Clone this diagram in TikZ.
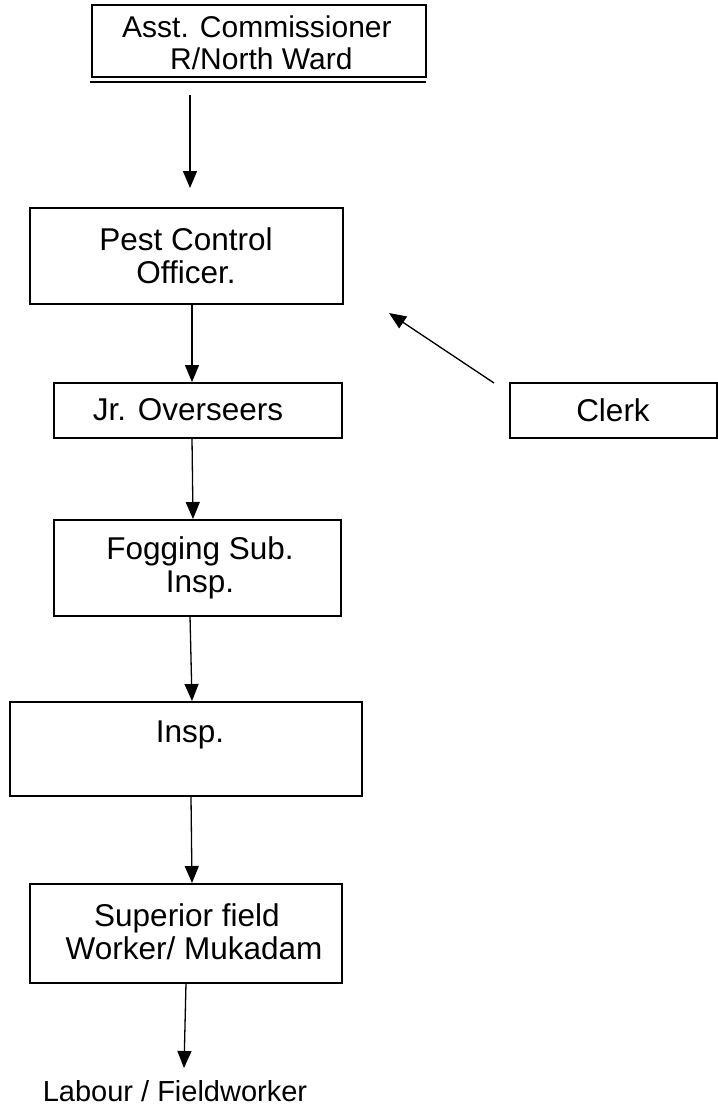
\documentclass[tikz,border=0pt]{standalone}
\usepackage{fontspec}
\setmainfont{Liberation Sans}
\usetikzlibrary{arrows.meta}
\begin{document}
\begin{tikzpicture}[x=1pt,y=-1pt,
  box/.style={draw,line width=1.4pt,inner sep=0pt},
  lbl/.style={font=\fontsize{31.5}{33}\selectfont,align=center,inner sep=0pt},
  toplbl/.style={font=\fontsize{30}{33}\selectfont,inner sep=0pt},
  freelbl/.style={font=\fontsize{29}{33}\selectfont,inner sep=0pt},
  arr/.style={line width=1.3pt,-{Triangle[length=17pt,width=14pt]}}]
\useasboundingbox (0,0) rectangle (718,1112);
% top box
\draw[line width=1.2pt] (92,5) rectangle (426,77);
\draw[line width=1.2pt] (90,82) -- (426,82);
\node[toplbl,anchor=base west] (t1) at (122,37) {Asst. Commissioner};
\node[toplbl,anchor=base west] (t2) at (170,69) {R/North Ward};
\coordinate (a0) at (190,95);
% boxes
\draw[box] (30,208) rectangle (343,304);
\node[lbl] (pco) at (186,256) {Pest Control\\Officer.};
\draw[box] (54,383) rectangle (342,438);
\node[lbl] (jo) at (188,410) {Jr. Overseers};
\draw[box] (510,383) rectangle (717,438);
\node[lbl] (cl) at (613,410) {Clerk};
\draw[box] (54,520) rectangle (341,616);
\node[lbl] (fs) at (200,568) {Fogging Sub.\\Insp.};
\draw[box] (10,702) rectangle (362,796);
\node[lbl,anchor=base] (in) at (190,742) {Insp.};
\draw[box] (30,884) rectangle (342,983);
\node[lbl,anchor=base] (sf1) at (187,926) {Superior field};
\node[lbl,anchor=base] (sf2) at (194,959) {Worker/ Mukadam};
\node[freelbl,anchor=base] (lab) at (175,1101) {Labour / Fieldworker};
% connectors
\coordinate (a1s) at (192,305); \coordinate (a1e) at (192,382);
\coordinate (a2s) at (192,438); \coordinate (a2e) at (193,519);
\coordinate (a3s) at (190,616); \coordinate (a3e) at (192,701);
\coordinate (a4s) at (191,797); \coordinate (a4e) at (192,883);
\coordinate (a5s) at (186,983); \coordinate (a5e) at (184,1068);
\coordinate (b0) at (190,188);
\coordinate (cs) at (494,383); \coordinate (ce) at (389,313);
\draw[arr] (a0) -- (b0);
\draw[arr] (a1s) -- (a1e);
\draw[arr] (a2s) -- (a2e);
\draw[arr] (a3s) -- (a3e);
\draw[arr] (a4s) -- (a4e);
\draw[arr] (a5s) -- (a5e);
\draw[arr] (cs) -- (ce);
\end{tikzpicture}
\end{document}
